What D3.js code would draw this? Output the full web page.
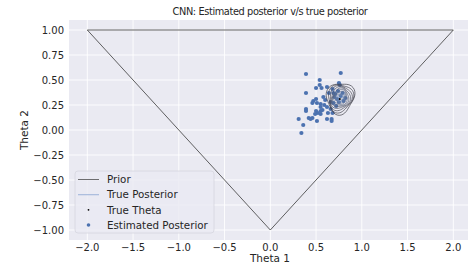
<!DOCTYPE html>
<html>
<head>
<meta charset="utf-8">
<script src="https://cdn.jsdelivr.net/npm/d3@7"></script>
<style>
  body { margin: 0; background: #fff; }
  text { font-family: "DejaVu Sans", sans-serif; fill: #262626; }
</style>
</head>
<body>
<svg id="chart" width="468" height="267"></svg>
<script>
// prior triangle vertices
const priorX = [-2, 2, 0, -2];
const priorY = [1, 1, -1, 1];

// estimated posterior samples
const estX = [0.39, 0.77, 0.54, 0.75, 0.76, 0.54, 0.50, 0.56, 0.62, 0.68, 0.39, 0.64, 0.69, 0.50, 0.47,
  0.46, 0.51, 0.55, 0.59, 0.55, 0.39, 0.39, 0.50, 0.55, 0.57, 0.52, 0.49, 0.55, 0.66, 0.63, 0.68, 0.31,
  0.42, 0.46, 0.44, 0.51, 0.62, 0.67, 0.67, 0.36, 0.34, 0.70, 0.73, 0.69, 0.75, 0.79, 0.66, 0.74, 0.62,
  0.60, 0.72, 0.80, 0.58, 0.77, 0.71, 0.82];
const estY = [0.56, 0.57, 0.50, 0.47, 0.45, 0.45, 0.42, 0.42, 0.43, 0.41, 0.37, 0.37, 0.37, 0.31, 0.29,
  0.27, 0.27, 0.26, 0.25, 0.23, 0.21, 0.19, 0.19, 0.19, 0.20, 0.17, 0.16, 0.16, 0.21, 0.17, 0.17, 0.11,
  0.12, 0.12, 0.11, 0.09, 0.11, 0.11, 0.09, 0.05, -0.03, 0.33, 0.31, 0.27, 0.28, 0.37, 0.28, 0.39, 0.23,
  0.30, 0.24, 0.29, 0.33, 0.34, 0.36, 0.32];

// true posterior density contours (center + ellipse half-widths per level)
const trueCenter = [0.765, 0.32];
const contourRx = [0.15, 0.135, 0.12, 0.105, 0.09, 0.077, 0.064, 0.05, 0.037, 0.024];
const contourRy = [0.155, 0.138, 0.122, 0.106, 0.092, 0.078, 0.064, 0.05, 0.037, 0.024];
const contourWobble = [0.018, 0.015, 0.012, 0.01, 0.009, 0.008, 0.006, 0.005, 0.004, 0.003];
const contourColors = ['#3f3f48', '#44444f', '#4a4b58', '#505363', '#565b6e', '#5c647a', '#636e88', '#6a7996', '#7285a5', '#7c92b3'];

const trueTheta = [0.76, 0.31];

const xTicks = [-2.0, -1.5, -1.0, -0.5, 0.0, 0.5, 1.0, 1.5, 2.0];
const yTicks = [-1.0, -0.75, -0.5, -0.25, 0.0, 0.25, 0.5, 0.75, 1.0];
const legendLabels = ['Prior', 'True Posterior', 'True Theta', 'Estimated Posterior'];

const svg = d3.select('#chart');
const plotL = 69, plotT = 20, plotR = 471.6, plotB = 240;

const x = d3.scaleLinear().domain([-2.2, 2.2]).range([plotL, plotR]);
const y = d3.scaleLinear().domain([-1.1, 1.1]).range([plotB, plotT]);

svg.append('rect')
  .attr('x', plotL).attr('y', plotT)
  .attr('width', plotR - plotL).attr('height', plotB - plotT)
  .attr('fill', '#eaeaf2');

// grid
svg.append('g').selectAll('line').data(xTicks).enter().append('line')
  .attr('x1', d => x(d)).attr('x2', d => x(d))
  .attr('y1', plotT).attr('y2', plotB)
  .attr('stroke', '#fff').attr('stroke-width', 0.9);
svg.append('g').selectAll('line').data(yTicks).enter().append('line')
  .attr('y1', d => y(d)).attr('y2', d => y(d))
  .attr('x1', plotL).attr('x2', plotR)
  .attr('stroke', '#fff').attr('stroke-width', 0.9);

// tick labels
const fmtX = d => d3.format('.1f')(d).replace('-', '\u2212');
const fmtY = d => d3.format('.2f')(d).replace('-', '\u2212');
svg.append('g').selectAll('text').data(xTicks).enter().append('text')
  .attr('x', d => x(d)).attr('y', 251)
  .attr('text-anchor', 'middle').attr('font-size', 10)
  .text(fmtX);
svg.append('g').selectAll('text').data(yTicks).enter().append('text')
  .attr('x', 64).attr('y', d => y(d) + 3.6)
  .attr('text-anchor', 'end').attr('font-size', 10)
  .text(fmtY);

// prior
const priorPts = priorX.map((d, i) => [d, priorY[i]]);
svg.append('path')
  .attr('d', d3.line().x(d => x(d[0])).y(d => y(d[1]))(priorPts))
  .attr('fill', 'none').attr('stroke', '#3a3a3a').attr('stroke-width', 0.8);

// estimated posterior
svg.append('g').selectAll('circle').data(estX).enter().append('circle')
  .attr('cx', d => x(d)).attr('cy', (d, i) => y(estY[i]))
  .attr('r', 2.1).attr('fill', '#4c72b0');

// true posterior contours
const angles = d3.range(0, 2 * Math.PI, Math.PI / 24);
const ellipse = d3.line().curve(d3.curveCardinalClosed)
  .x(d => x(d[0])).y(d => y(d[1]));
svg.append('g').selectAll('path').data(contourRx).enter().append('path')
  .attr('d', (rx, i) => ellipse(angles.map(a => {
    const w = contourWobble[i] * Math.sin(3 * a + i * 0.7);
    return [
      trueCenter[0] + (rx + w) * Math.cos(a) + 0.012 * Math.sin(a),
      trueCenter[1] + (contourRy[i] + w) * Math.sin(a)
    ];
  })))
  .attr('fill', 'none')
  .attr('stroke', (d, i) => contourColors[i])
  .attr('stroke-width', 0.7);

svg.append('circle')
  .attr('cx', x(trueTheta[0])).attr('cy', y(trueTheta[1]))
  .attr('r', 1).attr('fill', '#000');

// legend
const lg = svg.append('g');
lg.append('rect')
  .attr('x', 75).attr('y', 171).attr('width', 139).attr('height', 62)
  .attr('rx', 3)
  .attr('fill', '#eaeaf2').attr('fill-opacity', 0.8)
  .attr('stroke', '#d6d6de').attr('stroke-width', 0.8);
const ly = d3.scalePoint().domain(legendLabels).range([179.5, 225]);
lg.selectAll('text').data(legendLabels).enter().append('text')
  .attr('x', 107).attr('y', d => ly(d) + 3.7)
  .attr('font-size', 10.3)
  .text(d => d);
lg.append('line')
  .attr('x1', 78).attr('x2', 99).attr('y1', ly('Prior')).attr('y2', ly('Prior'))
  .attr('stroke', '#3a3a3a').attr('stroke-width', 0.9).attr('stroke-opacity', 0.8);
lg.append('line')
  .attr('x1', 78).attr('x2', 99).attr('y1', ly('True Posterior')).attr('y2', ly('True Posterior'))
  .attr('stroke', '#a9bbdc').attr('stroke-width', 1.2);
lg.append('circle')
  .attr('cx', 88.5).attr('cy', ly('True Theta')).attr('r', 0.9).attr('fill', '#000');
lg.append('circle')
  .attr('cx', 88.5).attr('cy', ly('Estimated Posterior')).attr('r', 1.8).attr('fill', '#4c72b0');

// labels
svg.append('text')
  .attr('x', 270).attr('y', 15)
  .attr('text-anchor', 'middle').attr('font-size', 9.8)
  .attr('letter-spacing', -0.4)
  .text('CNN: Estimated posterior v/s true posterior');
svg.append('text')
  .attr('x', 270).attr('y', 262)
  .attr('text-anchor', 'middle').attr('font-size', 10.5)
  .text('Theta 1');
svg.append('text')
  .attr('transform', 'translate(28,130) rotate(-90)')
  .attr('text-anchor', 'middle').attr('font-size', 10.5)
  .text('Theta 2');
</script>
</body>
</html>
